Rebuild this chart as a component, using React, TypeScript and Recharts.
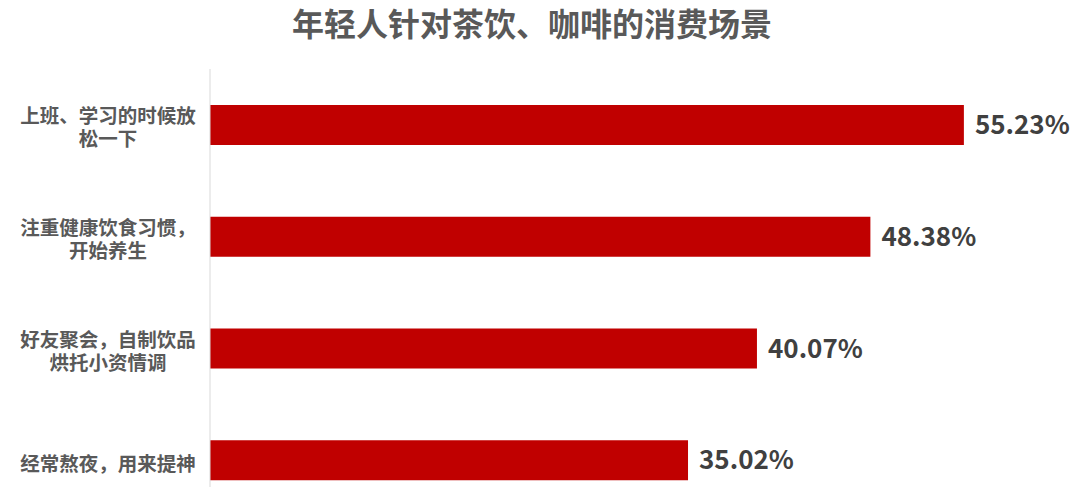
import { BarChart, Bar, XAxis, YAxis, LabelList } from "recharts";

const categories = [
  ["上班、学习的时候放", "松一下"],
  ["注重健康饮食习惯，", "开始养生"],
  ["好友聚会，自制饮品", "烘托小资情调"],
  ["经常熬夜，用来提神"],
];
const shares = [55.23, 48.38, 40.07, 35.02];

const data = categories.map((lines, i) => ({ name: lines.join("\n"), value: shares[i] }));

const FONT = '"Noto Sans CJK SC", "Noto Sans", sans-serif';

function CategoryTick({ y, payload }: any) {
  const lines = String(payload.value).split("\n");
  const start = lines.length > 1 ? -10 : 2;
  return (
    <g>
      {lines.map((l, i) => (
        <text
          key={i}
          x={108}
          y={y + start + i * 23}
          textAnchor="middle"
          dominantBaseline="central"
          fill="#595959"
          fontSize={19.5}
          fontWeight="bold"
          fontFamily={FONT}
        >
          {l}
        </text>
      ))}
    </g>
  );
}

export default function App() {
  return (
    <div style={{ position: "fixed", left: 0, top: 0, width: 1080, height: 487, overflow: "hidden", background: "#fff" }}>
      <div
        style={{
          position: "absolute", left: 0, top: 4, width: 1064, textAlign: "center",
          fontFamily: FONT, fontSize: 32, fontWeight: "bold", color: "#595959", lineHeight: "36px",
        }}
      >
        年轻人针对茶饮、咖啡的消费场景
      </div>
      <BarChart
        width={1080}
        height={516}
        data={data}
        layout="vertical"
        margin={{ top: 69, right: 51, bottom: 0, left: 0 }}
      >
        <XAxis type="number" domain={[0, 60]} hide />
        <YAxis
          type="category"
          dataKey="name"
          width={210}
          tick={<CategoryTick />}
          tickLine={false}
          axisLine={{ stroke: "#d9d9d9" }}
          interval={0}
        />
        <Bar dataKey="value" fill="#c00000" barSize={40} isAnimationActive={false}>
          <LabelList
            dataKey="value"
            position="right"
            offset={11}
            formatter={(v: any) => `${Number(v).toFixed(2)}%`}
            fill="#404040"
            fontSize={26}
            fontWeight="bold"
            fontFamily={FONT}
          />
        </Bar>
      </BarChart>
    </div>
  );
}
